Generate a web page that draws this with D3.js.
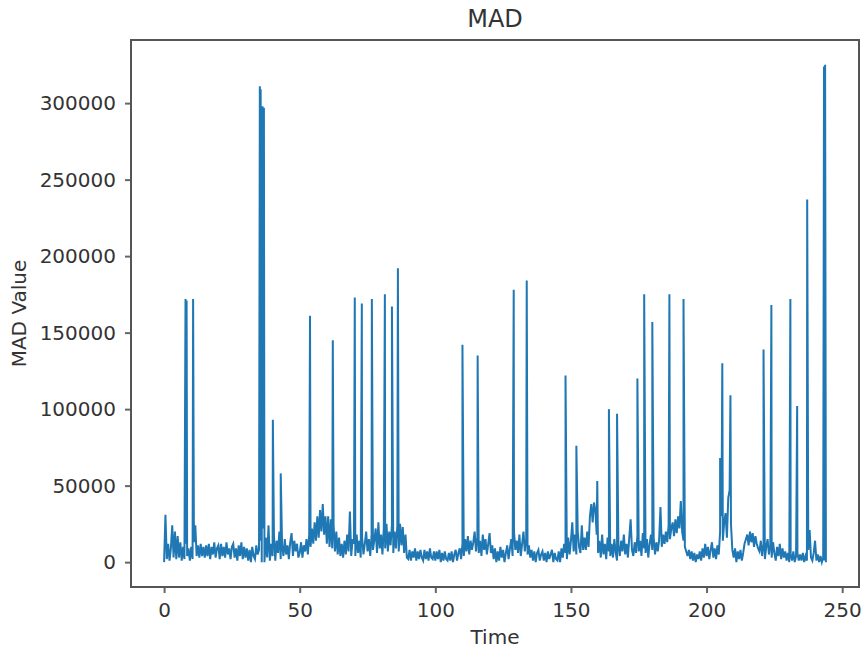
<!DOCTYPE html>
<html>
<head>
<meta charset="utf-8">
<script src="https://cdn.jsdelivr.net/npm/d3@7"></script>
<style>
  html, body { margin: 0; padding: 0; background: #fff; }
  text { font-family: "DejaVu Sans", sans-serif; fill: #333; }
</style>
</head>
<body>
<div id="chart"></div>
<script>
// MAD values in thousands, sampled every 0.5 time units from t = 0
const baseStart = 0;
const baseStep = 0.5;
const baseline = [
  0, 31, 2, 12, 1, 9, 24, 3, 20, 2,
  17, 3, 13, 1, 10, 2, 12, 4, 9, 1,
  10, 2, 13, 24, 4, 11, 3, 12, 4, 10,
  3, 11, 4, 12, 2, 10, 5, 13, 3, 9,
  11, 2, 12, 4, 10, 3, 13, 5, 9, 2,
  10, 12, 3, 9, 1, 11, 4, 13, 2, 10,
  3, 9, 1, 8, 0, 10, 4, 2, 11, 5,
  8, 14, 0, 22, 0, 16, 3, 24, 1, 12,
  4, 18, 1, 14, 6, 20, 2, 11, 4, 15,
  5, 11, 2, 13, 19, 4, 14, 7, 12, 3,
  6, 13, 3, 11, 7, 15, 5, 18, 10, 22,
  12, 26, 14, 30, 16, 34, 20, 38, 18, 30,
  12, 30, 10, 28, 9, 24, 7, 20, 5, 16,
  4, 12, 3, 14, 5, 18, 7, 33, 4, 15,
  12, 4, 18, 6, 14, 3, 16, 5, 12, 20,
  7, 15, 4, 18, 8, 14, 22, 6, 26, 9,
  18, 5, 22, 9, 25, 7, 20, 11, 24, 6,
  20, 9, 24, 7, 25, 11, 23, 6, 18, 3,
  2, 8, 1, 7, 3, 9, 1, 7, 2, 8,
  3, 1, 8, 2, 7, 1, 9, 3, 2, 7,
  1, 7, 2, 8, 0, 6, 1, 7, 2, 1,
  6, 1, 7, 0, 5, 8, 1, 6, 9, 2,
  12, 4, 15, 7, 17, 5, 14, 8, 13, 20,
  7, 16, 6, 14, 4, 18, 8, 15, 5, 12,
  19, 6, 11, 2, 9, 0, 7, 1, 10, 3,
  8, 0, 6, 11, 2, 9, 15, 4, 20, 8,
  14, 6, 18, 4, 12, 20, 7, 15, 5, 11,
  3, 8, 1, 7, 0, 6, 8, 1, 5, 7,
  1, 6, 0, 7, 2, 5, 8, 0, 6, 2,
  1, 7, 0, 9, 3, 12, 6, 2, 16, 5,
  14, 26, 7, 18, 5, 20, 10, 6, 24, 8,
  16, 8, 20, 10, 30, 38, 26, 39, 34, 18,
  6, 14, 3, 18, 5, 12, 2, 16, 7, 4,
  12, 3, 15, 6, 1, 11, 4, 14, 7, 18,
  5, 12, 3, 16, 28, 8, 4, 13, 6, 17,
  7, 14, 4, 19, 9, 6, 15, 3, 12, 18,
  8, 16, 5, 13, 7, 14, 36, 10, 18, 12,
  20, 13, 24, 15, 22, 26, 17, 28, 19, 30,
  22, 40, 20, 14, 10, 7, 4, 8, 2, 7,
  1, 6, 0, 5, 2, 7, 1, 9, 3, 12,
  4, 10, 2, 8, 13, 3, 9, 2, 11, 5,
  20, 30, 14, 26, 32, 16, 42, 47, 25, 8,
  3, 9, 0, 7, 2, 8, 1, 6, 12, 15,
  18, 11, 20, 13, 19, 10, 17, 12, 9, 7,
  14, 4, 12, 2, 10, 15, 5, 11, 3, 13,
  6, 1, 10, 4, 12, 2, 9, 3, 7, 1,
  6, 0, 5, 1, 7, 0, 4, 6, 1, 5,
  1, 6, 0, 4, 1, 8, 21, 3, 1, 6,
  14, 1, 5, 0, 4, 0, 3, 1, 0
];

// isolated spikes: time and MAD value (thousands)
const spikeTimes = [
  7.9, 8.3, 10.7, 35.3, 35.6, 36.3, 36.8, 40.1, 43.0, 53.8,
  62.2, 70.3, 72.9, 76.6, 81.4, 84.0, 86.2, 110.0, 115.6, 128.9,
  133.7, 148.0, 152.0, 159.7, 164.0, 167.0, 174.5, 177.0, 180.0, 186.3,
  191.5, 205.0, 205.8, 208.8, 221.0, 223.9, 230.9, 233.4, 237.1, 243.3,
  243.7
];
const spikeValues = [
  172, 171, 172, 311, 309, 298, 297, 93, 58, 161,
  145, 173, 169, 172, 175, 167, 192, 142, 135, 178,
  184, 122, 76, 53, 100, 97, 120, 175, 157, 175,
  172, 68, 130, 109, 139, 168, 172, 102, 237, 324,
  325
];

const xTicks = [0, 50, 100, 150, 200, 250];
const yTicks = [0, 50000, 100000, 150000, 200000, 250000, 300000];

const series = baseline.map((v, i) => ({ t: baseStart + i * baseStep, v: v * 1000 }))
  .concat(spikeTimes.map((t, i) => ({ t: t, v: spikeValues[i] * 1000 })))
  .sort((a, b) => a.t - b.t);

const width = 865, height = 650;
const margin = { left: 131, right: 6, top: 40, bottom: 63 };

const svg = d3.select('#chart')
  .append('svg')
  .attr('width', width)
  .attr('height', height);

// matplotlib style 5% padding around the data
const tMax = d3.max(series, d => d.t);
const vMax = d3.max(series, d => d.v);
const x = d3.scaleLinear()
  .domain([-0.05 * tMax, tMax * 1.05])
  .range([margin.left, width - margin.right]);
const y = d3.scaleLinear()
  .domain([-0.05 * vMax, vMax * 1.05])
  .range([height - margin.bottom, margin.top]);

const line = d3.line()
  .x(d => x(d.t))
  .y(d => y(d.v));

svg.append('path')
  .datum(series)
  .attr('fill', 'none')
  .attr('stroke', '#1f77b4')
  .attr('stroke-width', 2)
  .attr('stroke-linejoin', 'miter')
  .attr('d', line);

// axes
const xAxis = svg.append('g')
  .attr('transform', `translate(0,${height - margin.bottom})`)
  .call(d3.axisBottom(x).tickValues(xTicks).tickSize(6).tickPadding(10));
const yAxis = svg.append('g')
  .attr('transform', `translate(${margin.left},0)`)
  .call(d3.axisLeft(y).tickValues(yTicks).tickSize(6).tickPadding(9).tickFormat(d3.format('d')));

[xAxis, yAxis].forEach(g => {
  g.select('.domain').remove();
  g.selectAll('.tick line').attr('stroke', '#666').attr('stroke-width', 2);
  g.selectAll('.tick text')
    .style('font-size', '20px')
    .style('font-family', '"DejaVu Sans", sans-serif')
    .attr('fill', '#333');
});

// frame
svg.append('rect')
  .attr('x', margin.left)
  .attr('y', margin.top)
  .attr('width', width - margin.left - margin.right)
  .attr('height', height - margin.top - margin.bottom)
  .attr('fill', 'none')
  .attr('stroke', '#555')
  .attr('stroke-width', 2);

const cx = (margin.left + width - margin.right) / 2;

svg.append('text')
  .attr('x', cx)
  .attr('y', 27)
  .attr('text-anchor', 'middle')
  .style('font-size', '24px')
  .text('MAD');

svg.append('text')
  .attr('x', cx)
  .attr('y', 644)
  .attr('text-anchor', 'middle')
  .style('font-size', '20px')
  .text('Time');

svg.append('text')
  .attr('transform', `translate(26,${(margin.top + height - margin.bottom) / 2}) rotate(-90)`)
  .attr('text-anchor', 'middle')
  .style('font-size', '20px')
  .text('MAD Value');
</script>
</body>
</html>
